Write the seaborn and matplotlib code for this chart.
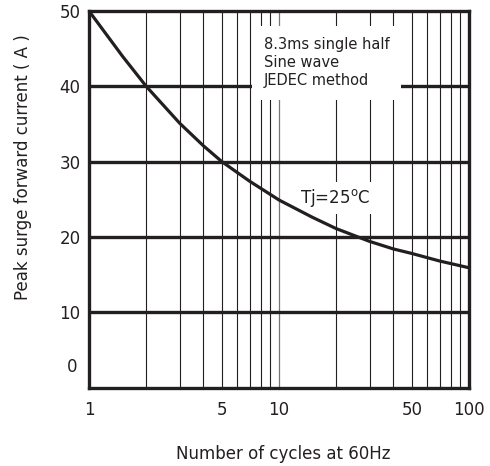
import numpy as np
import pandas as pd
import matplotlib
matplotlib.use("Agg")
import matplotlib.pyplot as plt
import matplotlib.transforms as mtransforms
import seaborn as sns

# values
cycles = [1, 1.5, 2, 3, 4, 5, 7, 10, 15, 20, 30, 40, 50, 70, 100]
surge_current = [50.0, 44.0, 40.0, 35.1, 32.1, 30.0, 27.4, 24.9, 22.6, 21.1, 19.4,
                 18.4, 17.8, 16.8, 15.9]

x_ticks = [1, 5, 10, 50, 100]
x_tick_labels = ["1", "5", "10", "50", "100"]
y_ticks = [10, 20, 30, 40, 50]
y_tick_labels = ["10", "20", "30", "40", "50"]

ink = "#231f20"

sns.set_style("white")
plt.rcParams["font.family"] = ["DejaVu Sans"]
plt.rcParams["mathtext.fontset"] = "dejavusans"

fig = plt.figure(figsize=(4.9, 4.66), dpi=100)
ax = fig.add_axes([89 / 490, 1 - 387.5 / 466, 380 / 490, 376.5 / 466])

df = pd.DataFrame({"cycles": cycles, "current": surge_current})
ax.set_xscale("log")
sns.lineplot(data=df, x="cycles", y="current", ax=ax, color=ink, lw=2.3, zorder=4)

ax.set_xlim(1, 100)
ax.set_ylim(0, 50)

# grid: thin verticals at every minor decade step, heavy horizontals
for d in [2, 3, 4, 5, 6, 7, 8, 9, 20, 30, 40, 50, 60, 70, 80, 90]:
    ax.axvline(d, color=ink, lw=0.8, zorder=1)
ax.axvline(10, color="#777777", lw=0.9, zorder=1)
for v in [10, 20, 30, 40]:
    ax.axhline(v, color=ink, lw=2.4, zorder=1)

for s in ax.spines.values():
    s.set_visible(True)
    s.set_color(ink)
    s.set_linewidth(2.4)

ax.set_xticks(x_ticks)
ax.set_xticklabels(x_tick_labels)
ax.xaxis.set_minor_locator(matplotlib.ticker.NullLocator())
ax.set_yticks(y_ticks)
ax.set_yticklabels(y_tick_labels)
ax.tick_params(axis="both", length=0, labelsize=12, colors=ink)
ax.tick_params(axis="x", pad=10)
ax.tick_params(axis="y", pad=6)

# the "0" label sits a little above the bottom line
blend = mtransforms.blended_transform_factory(ax.transAxes, ax.transData)
ax.text(-0.03, 0, "0", ha="right", va="center", fontsize=12, color=ink,
        transform=blend + mtransforms.ScaledTranslation(0, 0.20, fig.dpi_scale_trans))

ax.set_xlabel("Number of cycles at 60Hz", fontsize=12, color=ink)
ax.set_ylabel("Peak surge forward current ( A )", fontsize=12, color=ink)
ax.xaxis.set_label_coords(0.51, -0.152)
ax.yaxis.set_label_coords(-0.15, 0.585)

ax.text(0.46, 0.862, "8.3ms single half\nSine wave\nJEDEC method", transform=ax.transAxes,
        ha="left", va="center", fontsize=10.5, color=ink, linespacing=1.25, zorder=2,
        bbox=dict(boxstyle="square,pad=0.8", fc="white", ec="none"))
ax.text(0.555, 0.503, r"Tj=25$^\mathregular{o}$C", transform=ax.transAxes,
        ha="left", va="center", fontsize=12, color=ink, zorder=2,
        bbox=dict(boxstyle="square,pad=0.3", fc="white", ec="none"))

fig.savefig("out.png", dpi=100, facecolor="white")
